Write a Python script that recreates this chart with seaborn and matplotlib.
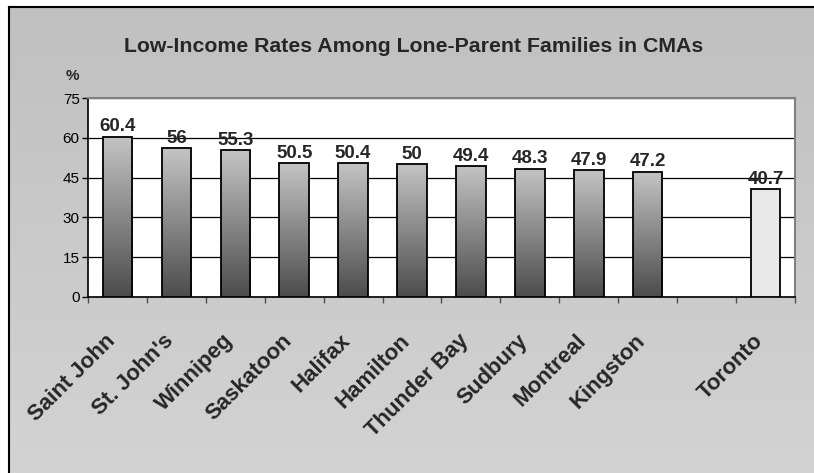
import matplotlib.pyplot as plt
import matplotlib.colors as mcolors
import numpy as np
import pandas as pd
import seaborn as sns

cities = ["Saint John", "St. John's", "Winnipeg", "Saskatoon", "Halifax", "Hamilton",
          "Thunder Bay", "Sudbury", "Montreal", "Kingston", "Toronto"]
rates = [60.4, 56, 55.3, 50.5, 50.4, 50, 49.4, 48.3, 47.9, 47.2, 40.7]
highlight = "Toronto"
# empty slot before Toronto, as in the original chart
order = cities[:-1] + [""] + cities[-1:]
yticks = [0, 15, 30, 45, 60, 75]
title = "Low-Income Rates Among Lone-Parent Families in CMAs"

sns.set_theme(style="white")
plt.rcParams["font.family"] = ["Liberation Sans", "DejaVu Sans"]

W, H = 814, 473
fig = plt.figure(figsize=(W / 100, H / 100), dpi=100, facecolor="white")

# grey chart area with a soft vertical gradient
bg = fig.add_axes([9 / W, 0, 1 - 9 / W, 1 - 7 / H], zorder=-1)
bg_cmap = mcolors.LinearSegmentedColormap.from_list("bg", ["#d3d3d3", "#c0c0c0"])
bg.imshow(np.linspace(0, 1, 256).reshape(-1, 1), aspect="auto", cmap=bg_cmap,
          origin="lower", extent=[0, 1, 0, 1])
bg.set_xticks([])
bg.set_yticks([])
for s in ["right", "bottom"]:
    bg.spines[s].set_visible(False)
for s in ["top", "left"]:
    bg.spines[s].set_color("black")
    bg.spines[s].set_linewidth(1.5)

ax = fig.add_axes([88 / W, 1 - 297 / H, (795 - 88) / W, (297 - 98) / H])
ax.set_facecolor("white")

df = pd.DataFrame({"city": cities, "rate": rates})
sns.barplot(data=df, x="city", y="rate", order=order, width=0.5, color="#a0a0a0",
            edgecolor="black", linewidth=1.3, ax=ax, zorder=3)

ax.set_xlim(-0.5, len(order) - 0.5)
ax.set_ylim(0, 75)

bar_cmap = mcolors.LinearSegmentedColormap.from_list("bar", ["#4c4c4c", "#c4c4c4"])
grad = np.linspace(0, 1, 256).reshape(-1, 1)
for p in ax.patches:
    x, w, h = p.get_x(), p.get_width(), p.get_height()
    idx = int(round(x + w / 2))
    if order[idx] == highlight:
        p.set_facecolor("#e9e9e9")
        continue
    p.set_facecolor("none")
    im = ax.imshow(grad, aspect="auto", cmap=bar_cmap, origin="lower",
                   extent=[x, x + w, 0, h], zorder=2.9)
    im.set_clip_path(p)

ax.set_xlim(-0.5, len(order) - 0.5)
ax.set_ylim(0, 75)

ax.bar_label(ax.containers[0], fmt="%g", padding=1, fontsize=13.5, fontweight="bold")

# grid and frame
ax.set_yticks(yticks)
ax.set_yticklabels([str(v) for v in yticks], fontsize=11)
ax.yaxis.grid(True, color="black", linewidth=0.9)
ax.set_axisbelow(True)
ax.spines["left"].set_color("black")
ax.spines["bottom"].set_color("black")
ax.spines["left"].set_linewidth(1.2)
ax.spines["bottom"].set_linewidth(1.2)
ax.spines["top"].set_color("#808080")
ax.spines["right"].set_color("#808080")
ax.spines["top"].set_linewidth(1.5)
ax.spines["right"].set_linewidth(1.5)

# ticks at category boundaries, labels (invisible minor ticks) near the centres
ax.set_xticks(np.arange(-0.5, len(order), 1))
ax.set_xticklabels([])
ax.set_xticks(np.arange(len(order)) - 0.22, minor=True)
ax.set_xticklabels(order, minor=True, rotation=45, ha="right", va="top",
                   rotation_mode="anchor", fontsize=16, fontweight="bold")
ax.tick_params(axis="x", which="major", direction="out", length=4, width=1,
               color="#505050", bottom=True)
ax.tick_params(axis="x", which="minor", length=0, pad=24, bottom=True)
ax.tick_params(axis="y", direction="out", length=4, width=1, color="black",
               left=True, pad=2, labelcolor="black")
ax.set_xlabel("")
ax.set_ylabel("")

fig.text(414 / W, 1 - 46 / H, title, ha="center", va="center", fontsize=15.3,
         fontweight="bold")
fig.text(72 / W, 1 - 76 / H, "%", ha="center", va="center", fontsize=11,
         fontweight="bold")

fig.savefig("out.png", dpi=100, facecolor=fig.get_facecolor())
